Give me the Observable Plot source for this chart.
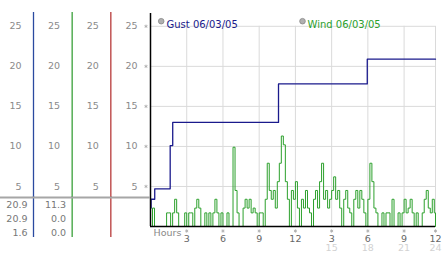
<!DOCTYPE html>
<html><head><meta charset="utf-8">
<script src="https://cdn.jsdelivr.net/npm/d3@7"></script>
<script src="https://cdn.jsdelivr.net/npm/@observablehq/plot@0.6"></script>
<style>
html,body{margin:0;padding:0;background:#fff;}
#chart{position:relative;width:442px;height:253px;overflow:hidden;background:#fff;}
#chart svg{position:absolute;left:0;}
</style></head><body><div id="chart"></div>
<script>
// ---- data ----
const windStepMinutes = 10;
const windValues = [
  0, 2.3, 0, 0, 0, 0, 0, 0, 1.7, 1.7, 0, 1.7, 3.4, 1.7, 0, 0, 0, 1.7, 0, 1.7,
  1.7, 0, 2.3, 3.4, 2.3, 0, 0, 1.7, 0, 1.7, 0, 1.7, 3.4, 1.7, 0, 1.7, 0, 0, 1.7, 0,
  0, 9.9, 4.5, 1.7, 0, 0, 2.3, 3.4, 2.3, 3.4, 1.7, 2.3, 1.7, 0, 1.7, 1.7, 0, 3.4, 7.9, 4.5,
  3.4, 4.5, 2.3, 5.6, 7.9, 11.3, 10.2, 5.6, 3.4, 0, 4.5, 3.4, 5.6, 2.3, 0, 3.4, 2.3, 4.5, 2.3, 1.7,
  0, 3.4, 4.5, 2.3, 5.6, 7.9, 3.4, 4.5, 2.3, 3.4, 4.5, 6.2, 3.4, 4.5, 2.3, 0, 3.4, 4.5, 2.3, 1.7,
  0, 3.4, 4.5, 2.3, 4.5, 3.4, 1.7, 0, 3.4, 7.9, 5.6, 2.3, 1.7, 0, 0, 1.7, 0, 1.7, 1.7, 0,
  3.4, 0, 0, 1.7, 0, 1.7, 3.4, 1.7, 2.3, 3.4, 1.7, 0, 1.7, 0, 0, 1.7, 3.4, 4.5, 2.3, 1.7,
  3.4, 1.7, 0
];
const gustHours  = [0, 0.05, 0.35, 1.63, 1.84, 10.6, 17.95, 23.6];
const gustValues = [2.3, 3.4, 4.7, 10.1, 13.0, 17.8, 20.9, 20.9];

const yTicks = [5, 10, 15, 20, 25];
const hourTicks = [3, 6, 9, 12, 15, 18, 21, 24];
const hourLabels = ["3", "6", "9", "12", "3", "6", "9", "12"];
const hourLabels24 = ["", "", "", "", "15", "18", "21", "24"];

const columns = [1, 2, 3, 4];
const columnColors = ["#2a4aa0", "#3aa03a", "#b83a3a"];
const gustStats = ["20.9", "20.9", "1.6"];
const windStats = ["11.3", "0.0", "0.0"];

const legendLabels = ["Gust 06/03/05", "Wind 06/03/05"];
const gustColor = "#1a1a8c";
const windColor = "#2ca02c";

// ---- build ----
const font = {background: "transparent", fontFamily: "'DejaVu Sans', sans-serif", fontSize: "9.5px"};
const wind = windValues.map((v, i) => ({h: i * windStepMinutes / 60, v}));
const gust = gustHours.map((h, i) => ({h, v: gustValues[i]}));

const main = Plot.plot({
  width: 442, height: 253,
  marginLeft: 150, marginRight: 7, marginTop: 13, marginBottom: 27,
  style: font,
  x: {domain: [0, 23.6], clamp: true, axis: null},
  y: {domain: [0, 26.6], axis: null},
  marks: [
    Plot.ruleY(yTicks, {y: d => d, stroke: "#dadada", strokeWidth: 1}),
    Plot.ruleX(hourTicks, {x: d => d, y1: 0, y2: 25, stroke: "#dadada", strokeWidth: 1}),
    Plot.dot(yTicks, {x: 0, y: d => d, dx: -4.5, symbol: "asterisk", r: 1.6, stroke: "#aaa", strokeWidth: 0.8}),
    Plot.dot(hourTicks, {x: d => d, y: 0, dy: 4.5, symbol: "asterisk", r: 1.6, stroke: "#aaa", strokeWidth: 0.8}),
    Plot.text(hourTicks, {x: d => d, y: 0, text: (d, i) => hourLabels[i], dy: 12, fill: "#666", fontSize: 9.5}),
    Plot.text(hourTicks, {x: d => d, y: 0, text: (d, i) => hourLabels24[i], dy: 21.5, fill: "#d2d2d2", fontSize: 9.5}),
    Plot.text(["Hours"], {x: 0, y: 0, text: d => d, dx: 3, dy: 6, textAnchor: "start", fill: "#888"}),
    Plot.line(wind, {x: "h", y: "v", stroke: windColor, strokeWidth: 1, curve: "step-after"}),
    Plot.line(gust, {x: "h", y: "v", stroke: gustColor, strokeWidth: 1.3, curve: "step-after"}),
    Plot.ruleY([0], {stroke: "#000", strokeWidth: 1.5}),
    Plot.ruleX([0], {stroke: "#000", strokeWidth: 1.5}),
    Plot.dot([legendLabels[0]], {frameAnchor: "top-left", dx: 10.7, dy: 7.7, r: 2.8, fill: "#b0b0b0", stroke: "#888", strokeWidth: 0.8}),
    Plot.text([legendLabels[0]], {frameAnchor: "top-left", dx: 16, dy: 7.7, text: d => d, textAnchor: "start", fill: gustColor, fontSize: 10}),
    Plot.dot([legendLabels[1]], {frameAnchor: "top-left", dx: 152, dy: 7.7, r: 2.8, fill: "#b0b0b0", stroke: "#888", strokeWidth: 0.8}),
    Plot.text([legendLabels[1]], {frameAnchor: "top-left", dx: 157, dy: 7.7, text: d => d, textAnchor: "start", fill: windColor, fontSize: 10})
  ]
});
main.style.top = "0px";

const leftX = {domain: [0, 4], range: [-5.67, 149], axis: null};
const axisCells = columns.flatMap(c => yTicks.map(t => ({c, t})));
const left = Plot.plot({
  width: 150, height: 197,
  marginTop: 12, marginBottom: 0, marginLeft: 0, marginRight: 0,
  style: font,
  x: leftX,
  y: {domain: [0, 26.6], range: [226, 13], axis: null},
  color: {type: "identity"},
  marks: [
    Plot.ruleX(columns.slice(0, 3), {x: d => d, stroke: (d, i) => columnColors[i], strokeWidth: 1.3}),
    Plot.text(axisCells, {x: "c", y: "t", text: d => String(d.t), dx: -12, textAnchor: "end", fill: "#8a8a8a"})
  ]
});
left.style.top = "0px";

const statCells = [
  ...gustStats.map((s, r) => ({c: 1, r, s})),
  ...windStats.map((s, r) => ({c: 2, r, s}))
];
const stats = Plot.plot({
  width: 150, height: 57,
  marginTop: 0, marginBottom: 16, marginLeft: 0, marginRight: 0,
  style: font,
  x: leftX,
  y: {domain: [0, 3], range: [1, 43], axis: null},
  color: {type: "identity"},
  marks: [
    Plot.ruleX(columns.slice(0, 3), {x: d => d, stroke: (d, i) => columnColors[i], strokeWidth: 1.3}),
    Plot.ruleY([0], {stroke: "#a6a6a6", strokeWidth: 2}),
    Plot.text(statCells, {x: "c", y: d => d.r + 0.5, text: "s", dx: -6, textAnchor: "end", fill: "#777"})
  ]
});
stats.style.top = "196px";

const chart = document.getElementById("chart");
chart.append(main, left, stats);
</script>
</body></html>
